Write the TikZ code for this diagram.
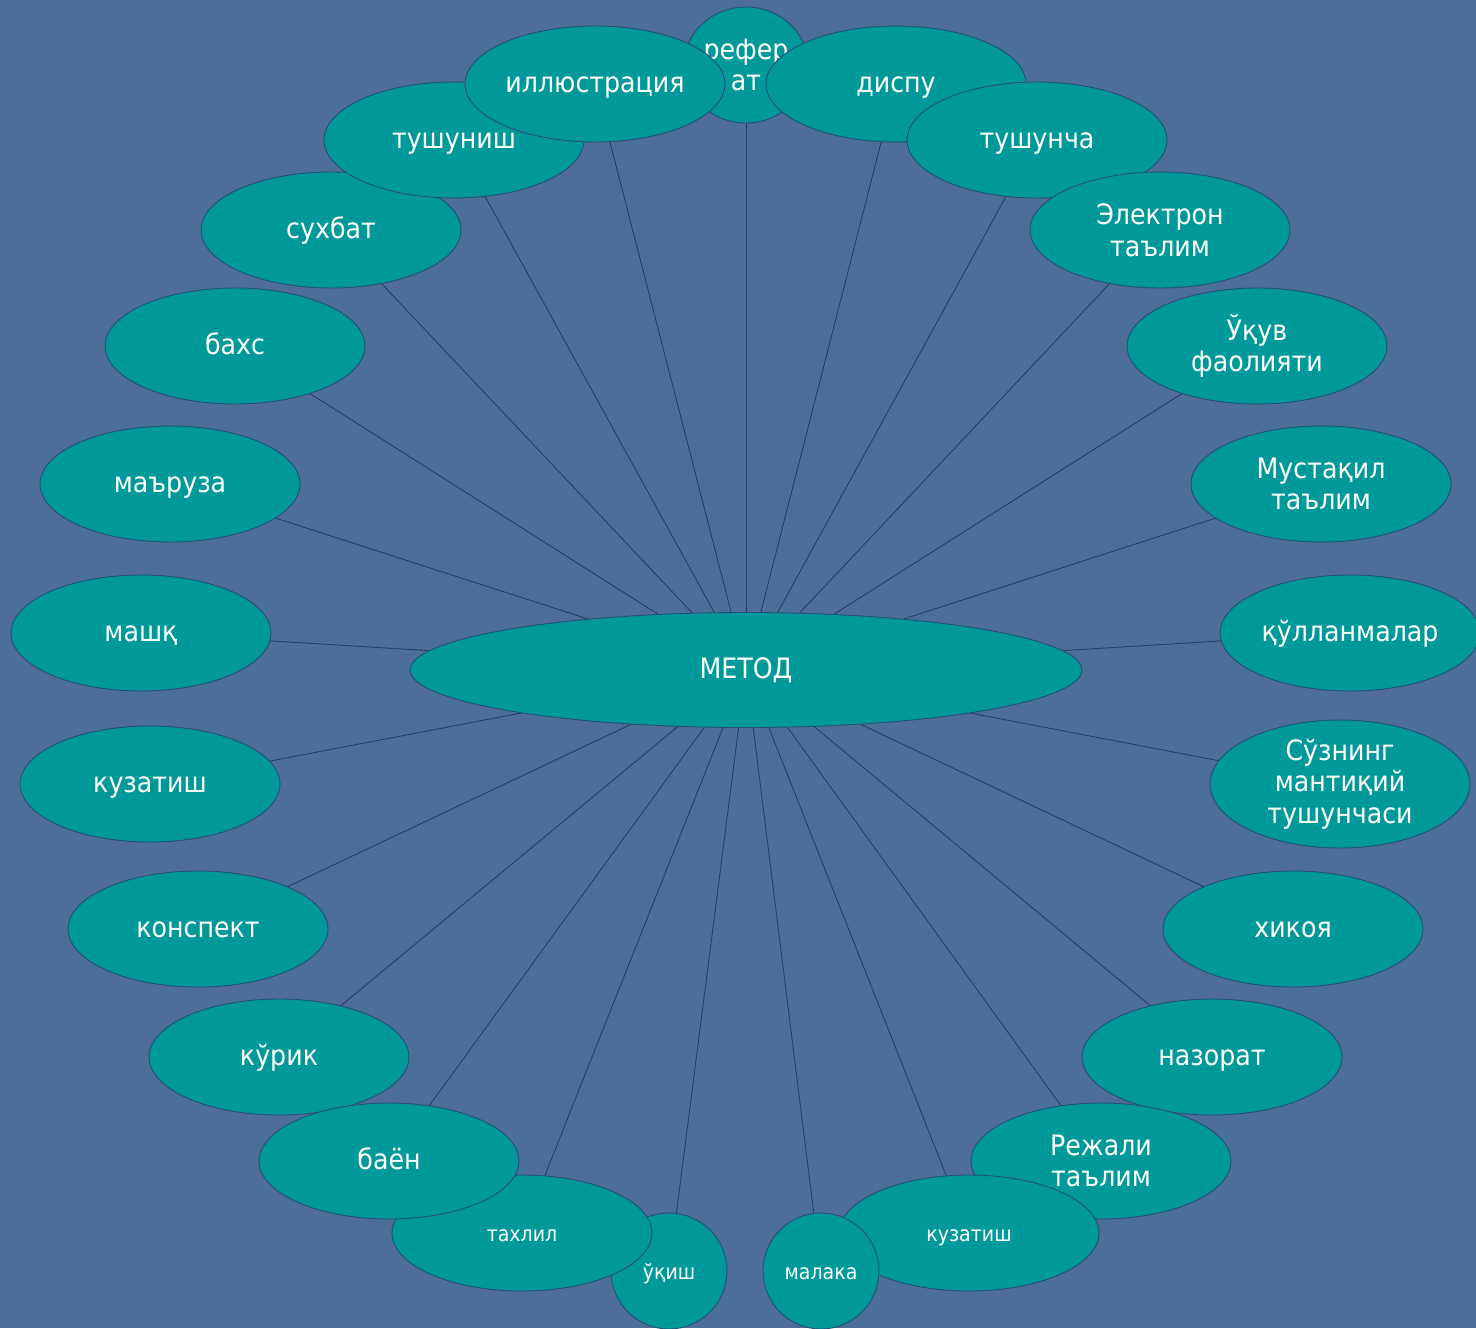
\documentclass[tikz,border=0pt]{standalone}
\usepackage{fontspec}
\setmainfont[FakeStretch=0.9]{DejaVu Sans}
\usetikzlibrary{shapes.geometric}
\definecolor{slide}{RGB}{76,110,152}
\definecolor{bubble}{RGB}{0,153,153}
\definecolor{rim}{RGB}{38,78,118}
\definecolor{spoke}{RGB}{36,62,104}
\pgfdeclarelayer{backdrop}
\pgfdeclarelayer{spokes}
\pgfsetlayers{backdrop,spokes,main}
\tikzset{
  idea/.style={ellipse, draw=rim, line width=0.5pt, fill=bubble, text=white,
    inner sep=0pt, minimum width=5.2cm, minimum height=2.32cm, align=center,
    font=\fontsize{16}{18}\selectfont},
  word/.style={idea, text height=1.0em, text depth=0pt},
  minor/.style={word, font=\fontsize{12}{14}\selectfont},
  disc/.style={minor, minimum width=2.32cm, minimum height=2.32cm},
  link/.style={draw=spoke, line width=0.5pt}
}
\begin{document}
\begin{tikzpicture}[x=0.02cm,y=-0.02cm]
		%background
		\begin{pgfonlayer}{backdrop}
		\fill[slide] (0,0) rectangle (1476,1328);
		\end{pgfonlayer}
		\useasboundingbox (0,0) rectangle (1476,1328);

		%centre
		\node[word, minimum width=13.44cm, minimum height=2.3cm] (metod) at (746,670) {МЕТОД};

		%top
		\node[idea, minimum width=2.48cm] (referat) at (746,65) {рефер\\ат};
		\node[word] (suhbat) at (331,230) {сухбат};
		\node[word] (tushunish) at (454,140) {тушуниш};
		\node[word] (illyus) at (595,84) {иллюстрация};
		\node[word] (dispu) at (896,84) {диспу};
		\node[word] (tushuncha) at (1037,140) {тушунча};
		\node[idea] (elektron) at (1160,230) {Электрон\\таълим};

		%left side
		\node[word] (bahs) at (235,346) {бахс};
		\node[word] (maruza) at (170,484) {маъруза};
		\node[word] (mashq) at (141,633) {машқ};
		\node[word] (kuzatish) at (150,784) {кузатиш};
		\node[word] (konspekt) at (198,929) {конспект};
		\node[word] (kurik) at (279,1057) {кўрик};

		%right side
		\node[idea] (uquv) at (1257,346) {Ўқув\\фаолияти};
		\node[idea] (mustaqil) at (1321,484) {Мустақил\\таълим};
		\node[word] (qullanma) at (1350,633) {қўлланмалар};
		\node[idea] (suzning) at (1340,784) {Сўзнинг\\мантиқий\\тушунчаси};
		\node[word] (hikoya) at (1293,929) {хикоя};
		\node[word] (nazorat) at (1212,1057) {назорат};

		%bottom
		\node[disc] (uqish) at (669,1271) {ўқиш};
		\node[minor] (tahlil) at (522,1233) {тахлил};
		\node[word] (bayon) at (389,1161) {баён};
		\node[idea] (rejali) at (1101,1161) {Режали\\таълим};
		\node[minor] (kuzatishb) at (969,1233) {кузатиш};
		\node[disc] (malaka) at (821,1271) {малака};

		%spokes
		\begin{pgfonlayer}{spokes}
		\foreach \n in {referat,suhbat,tushunish,illyus,dispu,tushuncha,elektron,
			bahs,maruza,mashq,kuzatish,konspekt,kurik,
			uquv,mustaqil,qullanma,suzning,hikoya,nazorat,
			uqish,tahlil,bayon,rejali,kuzatishb,malaka}
		\draw[link] (metod.center) -- (\n.center);
		\end{pgfonlayer}
\end{tikzpicture}
\end{document}
